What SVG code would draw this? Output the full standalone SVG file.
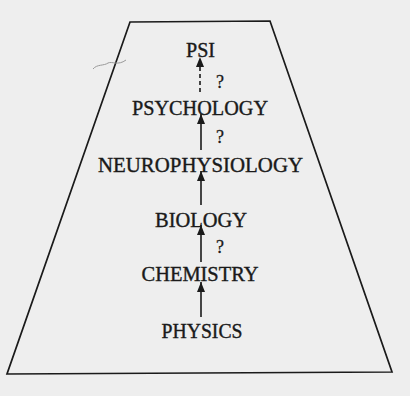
<svg xmlns="http://www.w3.org/2000/svg" width="410" height="396" viewBox="0 0 410 396">
<defs>
<marker id="ah" viewBox="0 0 10 8" refX="10" refY="4" markerWidth="10" markerHeight="8" markerUnits="userSpaceOnUse" orient="auto">
<path d="M0,0 L10,4 L0,8 Z" fill="#1a1a1a"/>
</marker>
<style>
.lbl{font-family:"Liberation Serif","Times New Roman",serif;font-size:22px;fill:#1a1a1a;stroke:#1a1a1a;stroke-width:0.4;text-anchor:middle}
.q{font-family:"Liberation Serif","Times New Roman",serif;font-size:18px;fill:#1a1a1a;stroke:#1a1a1a;stroke-width:0.3;text-anchor:middle}
.edge{stroke:#1a1a1a;stroke-width:1.6;fill:none}
</style>
</defs>
<rect width="410" height="396" fill="#eeeeee"/>
<g id="frame">
<path d="M130,22 L270,21 L392,372 L7,374 Z" fill="none" stroke="#1a1a1a" stroke-width="1.7"/>
<path d="M93,69 C97,64 104,66 108,63 C112,61 118,66 126,60" fill="none" stroke="#999" stroke-width="1"/>
</g>
<g id="psi"><text class="lbl" x="200.5" y="57" textLength="29" lengthAdjust="spacingAndGlyphs">PSI</text></g>
<g id="psychology"><text class="lbl" x="200" y="115" textLength="136" lengthAdjust="spacingAndGlyphs">PSYCHOLOGY</text></g>
<g id="neurophysiology"><text class="lbl" x="200.5" y="172" textLength="205" lengthAdjust="spacingAndGlyphs">NEUROPHYSIOLOGY</text></g>
<g id="biology"><text class="lbl" x="201" y="227" textLength="92" lengthAdjust="spacingAndGlyphs">BIOLOGY</text></g>
<g id="chemistry"><text class="lbl" x="200" y="281" textLength="117" lengthAdjust="spacingAndGlyphs">CHEMISTRY</text></g>
<g id="physics"><text class="lbl" x="202" y="338" textLength="81" lengthAdjust="spacingAndGlyphs">PHYSICS</text></g>
<g id="connectors">
<line class="edge" x1="200" y1="92" x2="200" y2="57" stroke-dasharray="4,3" marker-end="url(#ah)"/>
<text class="q" x="220" y="88">?</text>
<line class="edge" x1="201" y1="150" x2="201" y2="114" marker-end="url(#ah)"/>
<text class="q" x="220" y="143">?</text>
<line class="edge" x1="201" y1="205" x2="201" y2="171" marker-end="url(#ah)"/>
<line class="edge" x1="201" y1="262" x2="201" y2="225" marker-end="url(#ah)"/>
<text class="q" x="220" y="253">?</text>
<line class="edge" x1="201" y1="317" x2="201" y2="282" marker-end="url(#ah)"/>
</g>
</svg>
